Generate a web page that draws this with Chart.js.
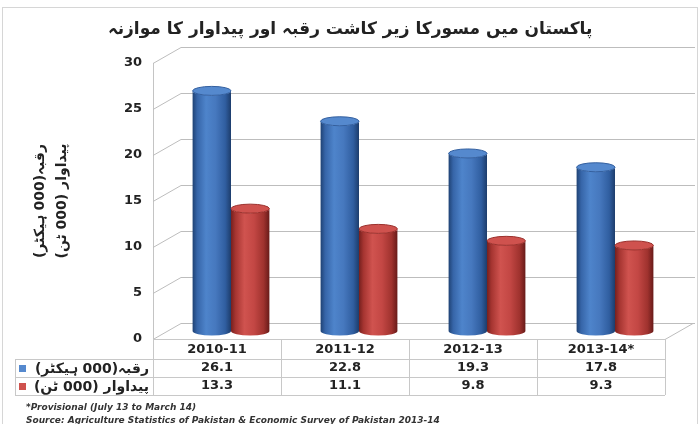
<!DOCTYPE html>
<html>
<head>
<meta charset="utf-8">
<script src="https://cdn.jsdelivr.net/npm/chart.js@4.4.0/dist/chart.umd.min.js"></script>
<style>
  html, body { margin: 0; padding: 0; background: #fff; }
  #caixa { width: 700px; height: 424px; position: relative; }
</style>
</head>
<body>
<div id="caixa"><canvas id="grafico"></canvas></div>
<script>
// dados
const anos = ['2010-11', '2011-12', '2012-13', '2013-14*'];
const rakba = [26.1, 22.8, 19.3, 17.8];
const paidawar = [13.3, 11.1, 9.8, 9.3];
const ticksY = [0, 5, 10, 15, 20, 25, 30];
const nomes = ['رقبہ(000 ہیکٹر)', 'پیداوار (000 ٹن)'];
const titulo = 'پاکستان میں مسورکا زیر کاشت رقبہ اور پیداوار کا موازنہ';
const notas = [
  '*Provisional (July 13 to March 14)',
  'Source: Agriculture Statistics of Pakistan & Economic Survey of Pakistan 2013-14'
];

// marca RLM para o texto urdu sair na ordem certa
const rtl = s => '\u200F' + s + '\u200F';

const FONTE = "'DejaVu Sans', sans-serif";
const DX = 28, DY = -16;       // profundidade da parede do fundo
const cores = [
  { corpo: [[0, '#1f4274'], [0.12, '#3665a8'], [0.35, '#4e84cb'], [0.6, '#4678be'], [0.85, '#305ea0'], [1, '#1d3d6c']],
    topo: '#5589ce', borda: '#335f9f' },
  { corpo: [[0, '#76201e'], [0.12, '#a63531'], [0.35, '#d0534f'], [0.6, '#c34744'], [0.85, '#9f322e'], [1, '#681b19']],
    topo: '#cf524e', borda: '#9a302c' }
];

function cilindro(ctx, cx, w, topo, base, c) {
  const rx = w / 2, ry = 4.5;
  const g = ctx.createLinearGradient(cx - rx, 0, cx + rx, 0);
  c.corpo.forEach(([o, cor]) => g.addColorStop(o, cor));
  ctx.beginPath();
  ctx.moveTo(cx - rx, topo);
  ctx.lineTo(cx - rx, base);
  ctx.ellipse(cx, base, rx, ry, 0, Math.PI, 0, true);
  ctx.lineTo(cx + rx, topo);
  ctx.ellipse(cx, topo, rx, ry, 0, 0, Math.PI, false);
  ctx.closePath();
  ctx.fillStyle = g;
  ctx.fill();
  ctx.beginPath();
  ctx.ellipse(cx, topo, rx, ry, 0, 0, Math.PI * 2);
  ctx.fillStyle = c.topo;
  ctx.fill();
  ctx.strokeStyle = c.borda;
  ctx.lineWidth = 1;
  ctx.stroke();
}

const parede = {
  id: 'parede',
  beforeDatasetsDraw(chart) {
    const ctx = chart.ctx;
    const { left, right, bottom } = chart.chartArea;
    const y = chart.scales.y;
    ctx.save();
    ctx.strokeStyle = '#bdbdbd';
    ctx.lineWidth = 1;
    ticksY.forEach(v => {
      const py = Math.round(y.getPixelForValue(v)) + 0.5;
      ctx.beginPath();
      ctx.moveTo(left, py);
      ctx.lineTo(left + DX, py + DY);
      ctx.lineTo(right + DX + 2, py + DY);
      ctx.stroke();
    });
    // lado direito do piso
    ctx.beginPath();
    ctx.moveTo(right, bottom + 0.5);
    ctx.lineTo(right + DX, bottom + DY + 0.5);
    ctx.stroke();
    ctx.restore();
  },
  afterDatasetsDraw(chart) {
    const ctx = chart.ctx;
    const y = chart.scales.y;
    ctx.save();
    [rakba, paidawar].forEach((serie, d) => {
      chart.getDatasetMeta(d).data.forEach((bar, i) => {
        const cx = bar.x + DX / 2;
        const topo = y.getPixelForValue(serie[i]) + DY / 2;
        const base = y.getPixelForValue(0) + DY / 2;
        cilindro(ctx, cx, bar.width, topo, base, cores[d]);
      });
    });
    ctx.restore();
  }
};

// tabela de dados embaixo, rótulos das séries e notas
const tabela = {
  id: 'tabela',
  afterDraw(chart) {
    const ctx = chart.ctx;
    const { left, right, bottom } = chart.chartArea;
    const passo = (right - left) / anos.length;
    const linhas = [bottom, bottom + 20, bottom + 38, bottom + 56];
    const xEsq = 15;
    ctx.save();
    ctx.strokeStyle = '#c8c8c8';
    ctx.lineWidth = 1;
    ctx.beginPath();
    linhas.forEach((ly, k) => {
      ctx.moveTo(k === 0 ? left : xEsq, ly + 0.5);
      ctx.lineTo(right, ly + 0.5);
    });
    for (let k = 0; k <= anos.length; k++) {
      const lx = Math.round(left + k * passo) + 0.5;
      ctx.moveTo(lx, bottom);
      ctx.lineTo(lx, linhas[3]);
    }
    ctx.moveTo(xEsq + 0.5, linhas[1]);
    ctx.lineTo(xEsq + 0.5, linhas[3]);
    ctx.stroke();

    ctx.font = "bold 14px 'DejaVu Sans', sans-serif";
    ctx.textAlign = 'right';
    ctx.textBaseline = 'middle';
    nomes.forEach((nome, k) => {
      const cy = (linhas[k + 1] + linhas[k + 2]) / 2;
      ctx.fillStyle = cores[k].topo;
      ctx.fillRect(19, cy - 3, 7, 7);
      ctx.fillStyle = '#222';
      ctx.fillText(rtl(nome), left - 4, cy + 1);
    });

    ctx.textAlign = 'left';
    ctx.fillStyle = '#333';
    ctx.font = "italic bold 9px " + FONTE;
    ctx.fillText(notas[0], 26, 408);
    ctx.fillText(notas[1], 26, 421);

    // moldura externa
    ctx.strokeStyle = '#d6d6d6';
    ctx.strokeRect(2.5, 7.5, 695, 430);
    ctx.restore();
  }
};

new Chart(document.getElementById('grafico'), {
  type: 'bar',
  data: {
    labels: anos.map((a, i) => [a, rakba[i].toFixed(1), paidawar[i].toFixed(1)]),
    datasets: [
      { label: nomes[0], data: rakba, backgroundColor: 'rgba(0,0,0,0)' },
      { label: nomes[1], data: paidawar, backgroundColor: 'rgba(0,0,0,0)' }
    ]
  },
  options: {
    responsive: true,
    maintainAspectRatio: false,
    animation: false,
    layout: { padding: 0 },
    datasets: { bar: { categoryPercentage: 0.6, barPercentage: 1.0 } },
    plugins: {
      legend: { display: false },
      tooltip: { enabled: false },
      title: {
        display: true,
        text: rtl(titulo),
        color: '#222',
        font: { family: "'DejaVu Sans', sans-serif", size: 17, weight: 'bold', lineHeight: '20px' },
        padding: { top: 20, bottom: 23 }
      }
    },
    scales: {
      x: {
        grid: { display: false, drawTicks: false },
        border: { display: false },
        ticks: {
          padding: 2,
          color: '#222',
          maxRotation: 0,
          autoSkip: false,
          font: { family: FONTE, size: 13, weight: 'bold', lineHeight: '18px' }
        },
        afterFit(scale) { scale.height = 85; }
      },
      y: {
        min: 0,
        max: 30,
        grid: { display: false, drawTicks: false },
        border: { display: true, color: '#c4c4c4' },
        ticks: {
          stepSize: 5,
          padding: 11,
          color: '#222',
          font: { family: FONTE, size: 13, weight: 'bold' }
        },
        title: {
          display: true,
          text: nomes.map(rtl),
          color: '#222',
          font: { family: "'DejaVu Sans', sans-serif", size: 14, weight: 'bold', lineHeight: '22px' },
          padding: { top: 29, bottom: 0 }
        },
        afterFit(scale) { scale.width = 153; }
      },
      // faixa vazia à direita para a parede do fundo
      margem: {
        type: 'linear',
        position: 'right',
        display: true,
        grid: { display: false, drawTicks: false },
        border: { display: false },
        ticks: { display: false },
        afterFit(scale) { scale.width = 35; }
      }
    }
  },
  plugins: [parede, tabela]
});
</script>
</body>
</html>
